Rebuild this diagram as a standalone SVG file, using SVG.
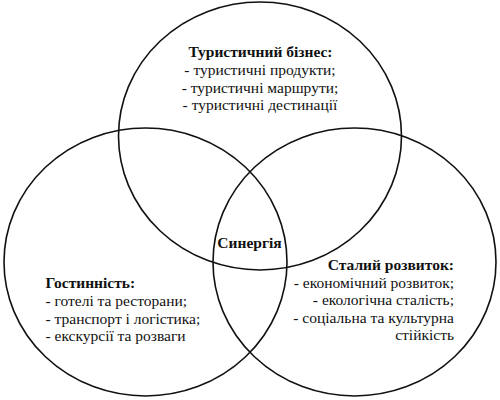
<svg xmlns="http://www.w3.org/2000/svg" width="500" height="400" viewBox="0 0 500 400">
<style>
.c{fill:none;stroke:#111;stroke-width:1.6}
text{font-family:"Liberation Serif","Times New Roman",serif;font-size:15.5px;fill:#111}
.b{font-weight:bold}
</style>
<rect width="500" height="400" fill="#fff"/>
<g id="connectors"/>
<g id="tourism">
<ellipse class="c" cx="260" cy="136" rx="141.5" ry="134"/>
<text x="260" text-anchor="middle"><tspan class="b" x="260.5" y="57">Туристичний бізнес:</tspan><tspan x="260" y="75">- туристичні продукти;</tspan><tspan x="260" y="92.5">- туристичні маршрути;</tspan><tspan x="260" y="110">- туристичні дестинації</tspan></text>
</g>
<g id="hospitality">
<ellipse class="c" cx="145.5" cy="262" rx="141.5" ry="134"/>
<text><tspan class="b" x="45.5" y="288">Гостинність:</tspan><tspan x="45.5" y="306">- готелі та ресторани;</tspan><tspan x="45.5" y="323.5">- транспорт і логістика;</tspan><tspan x="45.5" y="341">- екскурсії та розваги</tspan></text>
</g>
<g id="sustainable">
<ellipse class="c" cx="354.5" cy="262" rx="141.5" ry="134"/>
<text text-anchor="end"><tspan class="b" x="454" y="270">Сталий розвиток:</tspan><tspan x="454" y="287.5">- економічний розвиток;</tspan><tspan x="454" y="305">- екологічна сталість;</tspan><tspan x="454" y="322.5">- соціальна та культурна</tspan><tspan x="454" y="340">стійкість</tspan></text>
</g>
<g id="synergy">
<text class="b" x="249.5" y="248" text-anchor="middle">Синергія</text>
</g>
</svg>
